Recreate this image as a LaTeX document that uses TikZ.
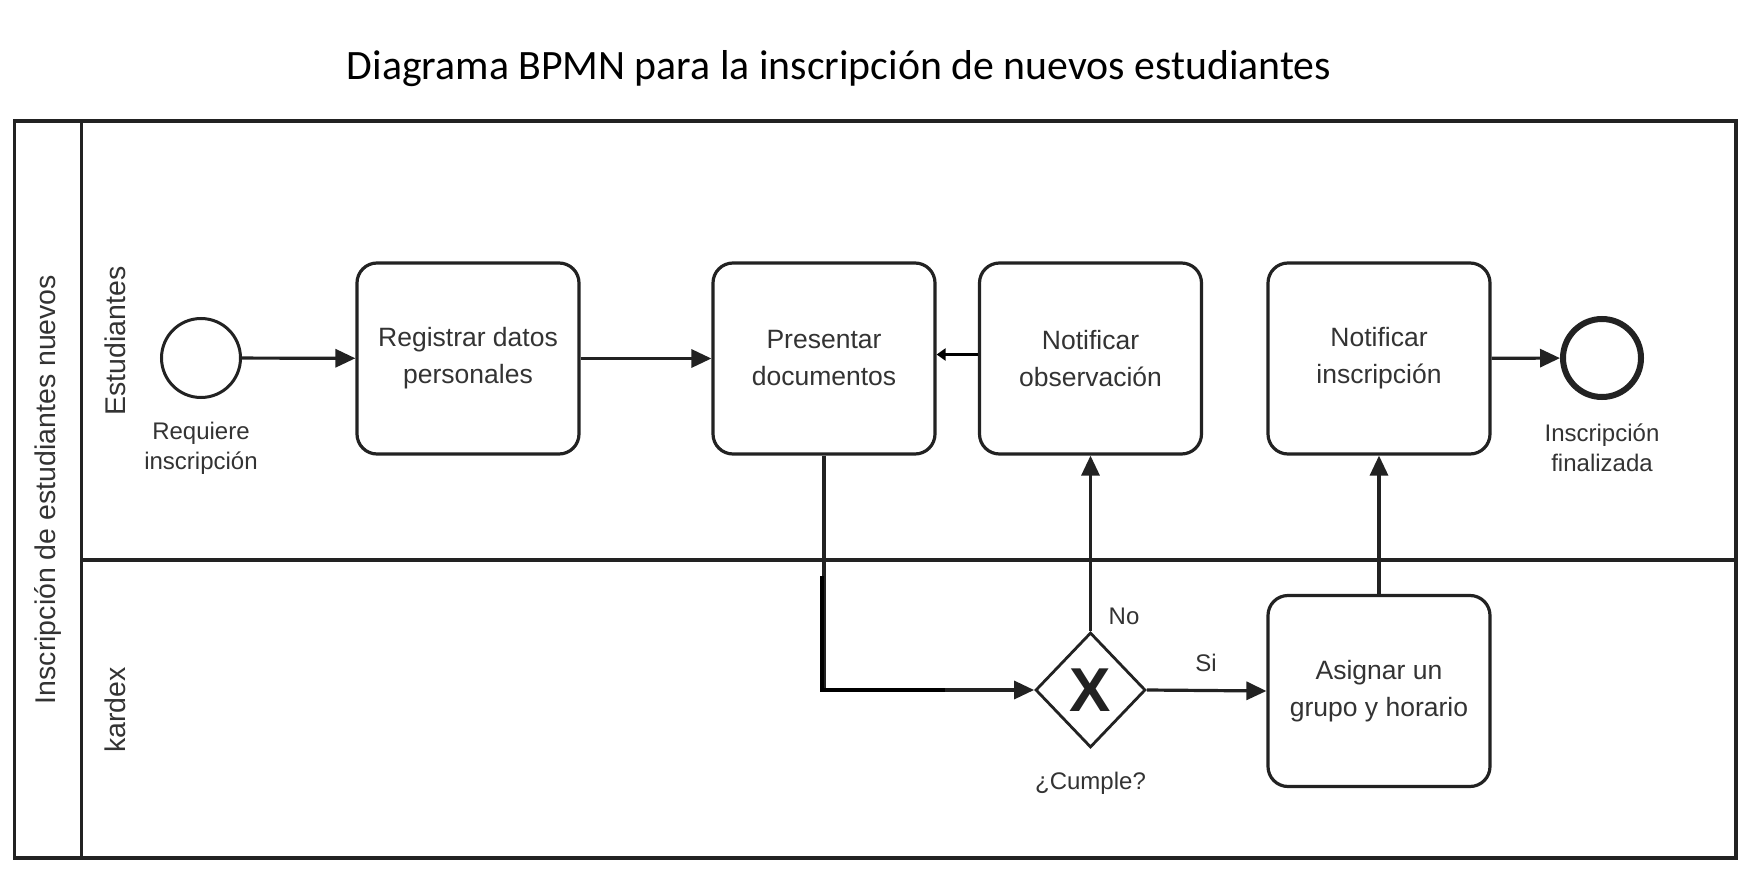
\documentclass[tikz,border=0pt]{standalone}
\usepackage{fontspec}
\setmainfont{Liberation Sans}
\newfontfamily\titlefont{Carlito}
\usetikzlibrary{shapes.geometric,arrows.meta,calc}
\definecolor{ink}{HTML}{222222}
\definecolor{txt}{HTML}{333333}
\begin{document}
\begin{tikzpicture}[x=1pt,y=-1pt,
  ln/.style={line width=3.2pt, draw=ink},
  task/.style={ln, rectangle, rounded corners=20pt, minimum width=222pt, minimum height=191pt, align=center, text=txt, font=\fontsize{26.5}{37}\selectfont, inner sep=0pt},
  flow/.style={line width=3.2pt, draw=ink, -{Triangle[length=20pt,width=18pt]}},
  lbl/.style={text=txt, font=\fontsize{24}{30}\selectfont, align=center, inner sep=0pt},
  lane/.style={text=txt, font=\fontsize{28.5}{30}\selectfont, rotate=90, inner sep=0pt},
]
\useasboundingbox[fill=white] (0,0) rectangle (1754,880);

% title
\node[font=\titlefont\fontsize{41.8}{48}\selectfont, text=black] (title) at (839,69) {Diagrama BPMN para la inscripción de nuevos estudiantes};

% pool and lanes
\draw[ln] (14.5,121) rectangle (1736,858);
\draw[ln] (81.7,121) -- (81.7,858);
\draw[ln] (81.7,560) -- (1736,560);
\node[lane] (pool) at (48,489.5) {Inscripción de estudiantes nuevos};
\node[lane] (lane1) at (115,341) {Estudiantes};
\node[lane] (lane2) at (115,710) {kardex};

% events
\node[circle, ln, line width=3pt, minimum size=79pt, inner sep=0pt] (start) at (201,358) {};
\node[lbl] (startlbl) at (201,448) {Requiere\\inscripción};
\node[circle, draw=ink, line width=6pt, minimum size=78pt, inner sep=0pt] (end) at (1602,358) {};
\node[lbl] (endlbl) at (1602,448) {Inscripción\\finalizada};

% tasks
\node[task] (t1) at (468,358.5) {Registrar datos\\personales};
\node[task] (t2) at (824,358.5) {Presentar\\documentos};
\node[task] (t3) at (1090.5,358.5) {Notificar\\observación};
\node[task] (t4) at (1379,358.5) {Notificar\\inscripción};
\node[task] (t5) at (1379,691) {Asignar un\\grupo y horario};

% gateway
\node[diamond, draw=ink, line width=2.8pt, minimum width=110pt, minimum height=115pt, inner sep=0pt] (gw) at (1090.5,690) {};
\node[font=\bfseries\fontsize{62}{62}\selectfont, text=ink, inner sep=0pt] (gx) at (gw.center) {X};
\node[lbl] (gwlbl) at (1090.5,783) {¿Cumple?};
\node[lbl] (nolbl) at (1124,616) {No};
\node[lbl] (silbl) at (1206,663) {Si};

% flows
\draw[flow] (start) -- (t1);
\draw[flow] (t1) -- (t2);
\draw[line width=3.6pt, draw=black, -{Triangle[length=9pt,width=12pt]}] ([yshift=4pt]t3.west) -- ([yshift=4pt]t2.east);
\draw[flow] (t4) -- (end);
\coordinate (bend) at (t2.south |- gw.west);
\draw[flow] (t2.south) |- (gw.west);
\coordinate (thk1) at (822,576);
\coordinate (thk2) at (945,690);
\draw[line width=4.6pt, draw=black] (thk1) -- (822,690) -- (thk2);
\draw[flow] (gw.north) -- (t3.south);
\draw[flow] (gw.east) -- (t5.west);
\draw[flow] (t5.north) -- (t4.south);
\end{tikzpicture}
\end{document}
